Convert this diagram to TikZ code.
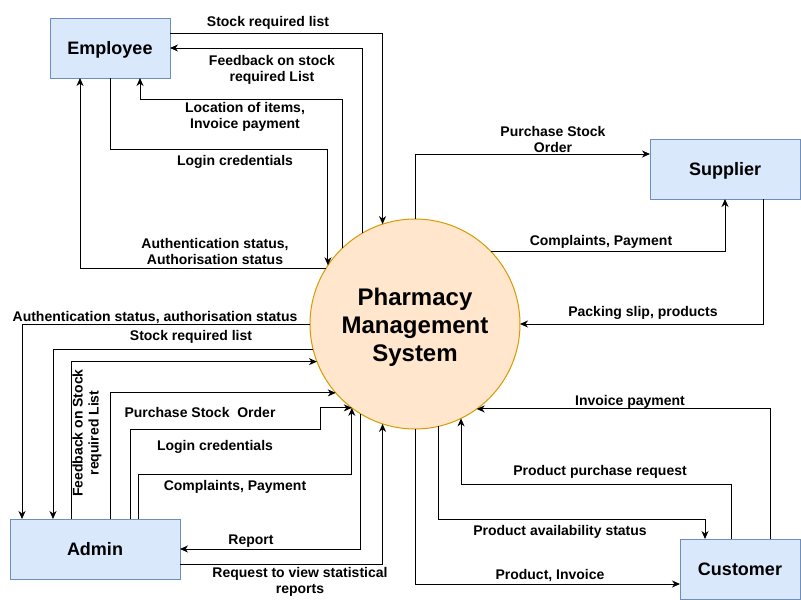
\documentclass[tikz,border=0pt]{standalone}
\usepackage{fontspec}
\setmainfont{Liberation Sans}
\usetikzlibrary{arrows.meta}
\definecolor{boxfill}{HTML}{DAE8FC}
\definecolor{boxline}{HTML}{6C8EBF}
\definecolor{circfill}{HTML}{FFE6CC}
\definecolor{circline}{HTML}{D79B00}
\tikzset{
  entity/.style={draw=boxline, fill=boxfill, line width=1pt, minimum height=60pt, inner sep=0pt, outer sep=0pt, text height=17.5pt, text depth=3.7pt, font=\fontsize{18}{21}\selectfont\bfseries},
  proc/.style={circle, draw=circline, fill=circfill, line width=1pt, minimum size=210pt, inner sep=0pt, outer sep=0pt},
  proctext/.style={inner sep=0pt, align=center, font=\fontsize{24}{28}\selectfont\bfseries},
  flow/.style={draw=black, line width=1pt, -{Stealth[length=8pt,width=7pt,inset=2.5pt]}},
  lbl/.style={inner sep=0pt, align=center, font=\fontsize{14}{16}\selectfont\bfseries}
}
\begin{document}
\begin{tikzpicture}[x=1pt,y=-1pt]
\fill[white] (0,0) rectangle (801,600);
\useasboundingbox (0,0) rectangle (801,600);

\node[entity, minimum width=120pt] (emp) at (110,48) {Employee};
\node[entity, minimum width=150pt] (sup) at (725,169) {Supplier};
\node[entity, minimum width=170pt] (adm) at (95,549) {Admin};
\node[entity, minimum width=120pt] (cus) at (740,569) {Customer};
\node[proc] (pms) at (415,324) {};
\node[proctext] (pmst) at ([yshift=-3pt]pms.center) {Pharmacy\\Management\\System};

% Employee
\draw[flow] ([yshift=15pt]emp.east) -| (pms.108.3);
\draw[flow] (pms.120.9) |- (emp.east);
\draw[flow] (pms.134) |- ([xshift=30pt,yshift=-21pt]emp.south) -- ([xshift=30pt]emp.south);
\draw[flow] (emp.south) -- ++(0,71) -| (pms.146.9);
\draw[flow] (pms.148.4) -| ([xshift=-30pt]emp.south);

% Admin
\draw[flow] (pms.180) -| ([xshift=-73pt]adm.north);
\draw[flow] (pms.194.3) -| ([xshift=-42pt]adm.north);
\draw[flow] ([xshift=-24pt]adm.north) |- (pms.201.8);
\draw[flow] ([xshift=15pt]adm.north) |- (pms.221.8);
\draw[flow] ([xshift=35pt]adm.north) -- ++(0,-90) -- ++(190,0) |- (pms.233.1);
\draw[flow] ([xshift=43pt]adm.north) -- ++(0,-45) -| (pms.233.8);
\draw[flow] (pms.239.1) |- (adm.east);
\draw[flow] ([yshift=-15pt]adm.east) -| (pms.252.1);

% Supplier
\draw[flow] (pms.north) |- ([yshift=15pt]sup.west);
\draw[flow] (pms.44.8) -| (sup.south);
\draw[flow] ([xshift=38pt]sup.south) |- (pms.east);

% Customer
\draw[flow] ([xshift=30pt]cus.north) |- (pms.306);
\draw[flow] ([xshift=-9pt]cus.north) -- ++(0,-55) -| (pms.296);
\draw[flow] (pms.283.8) |- ([xshift=-35pt,yshift=20pt]cus.north) -- ([xshift=-35pt]cus.north);
\draw[flow] (pms.south) |- ([yshift=-15pt]cus.west);

% Labels
\node[lbl] (l1) at (268,23) {Stock required list};
\node[lbl] (l2) at (272,70) {Feedback on stock\\required List};
\node[lbl] (l3) at (245,117) {Location of items,\\Invoice payment};
\node[lbl] (l4) at (235,162) {Login credentials};
\node[lbl] (l5) at (215,251) {Authentication status,\\Authorisation status};
\node[lbl] (l6) at (155,318) {Authentication status, authorisation status};
\node[lbl] (l7) at (191,337) {Stock required list};
\node[lbl, rotate=90] (l8) at (87,433) {Feedback on Stock\\required List};
\node[lbl] (l9) at (200,412) {Purchase Stock\ \ Order};
\node[lbl] (l10) at (215,447) {Login credentials};
\node[lbl] (l11) at (235,487) {Complaints, Payment};
\node[lbl] (l12) at (251,541) {Report};
\node[lbl] (l13) at (300,582) {Request to view statistical\\reports};
\node[lbl] (l14) at (553,139) {Purchase Stock\\Order};
\node[lbl] (l15) at (601,242) {Complaints, Payment};
\node[lbl] (l16) at (643,313) {Packing slip, products};
\node[lbl] (l17) at (630,402) {Invoice payment};
\node[lbl] (l18) at (600,472) {Product purchase request};
\node[lbl] (l19) at (560,532) {Product availability status};
\node[lbl] (l20) at (550,576) {Product, Invoice};
\end{tikzpicture}
\end{document}
